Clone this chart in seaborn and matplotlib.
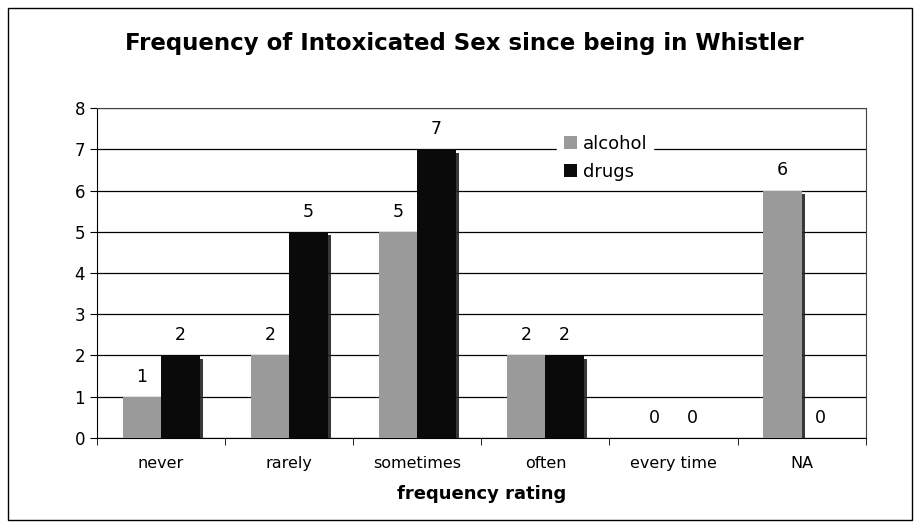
import pandas as pd
import seaborn as sns
import matplotlib.pyplot as plt
import matplotlib.patheffects as pe
from matplotlib.patches import Rectangle

categories = ['never', 'rarely', 'sometimes', 'often', 'every time', 'NA']
alcohol = [1, 2, 5, 2, 0, 6]
drugs = [2, 5, 7, 2, 0, 0]

df = pd.DataFrame({
    'rating': categories * 2,
    'count': alcohol + drugs,
    'substance': ['alcohol'] * len(categories) + ['drugs'] * len(categories),
})

sns.set_style("white")
plt.rcParams['font.family'] = ['DejaVu Sans']
plt.rcParams['text.color'] = 'black'
plt.rcParams['axes.labelcolor'] = 'black'
plt.rcParams['xtick.color'] = 'black'
plt.rcParams['ytick.color'] = 'black'

fig = plt.figure(figsize=(9.18, 5.27), dpi=100)
ax = fig.add_axes([0.1057, 0.169, 0.8373, 0.626])

sns.barplot(data=df, x='rating', y='count', hue='substance', order=categories,
            palette={'alcohol': '#9a9a9a', 'drugs': '#0a0a0a'},
            width=0.6, saturation=1, linewidth=0, ax=ax, zorder=3)

for c in ax.containers:
    ax.bar_label(c, padding=8, fontsize=12.5)

ax.set_ylim(0, 8)
ax.set_xlim(-0.5, 5.5)
ax.set_yticks(range(0, 9))
ax.yaxis.grid(True, color='black', linewidth=0.9, zorder=0)
ax.set_axisbelow(True)
for s in ax.spines.values():
    s.set_color('#444444')
    s.set_linewidth(0.8)
ax.spines['left'].set_color('black')
ax.spines['bottom'].set_color('black')
ax.tick_params(axis='y', left=True, length=5, labelsize=12)
ax.set_xticks(range(len(categories)))
ax.set_xticklabels(categories)
ax.set_xticks([i - 0.5 for i in range(len(categories) + 1)], minor=True)
ax.tick_params(axis='x', which='major', length=0, labelsize=11.5, pad=13)
ax.tick_params(axis='x', which='minor', bottom=True, length=5)
ax.set_xlabel('frequency rating', fontsize=13, fontweight='bold', labelpad=10)
ax.set_ylabel('')

leg = ax.legend(loc='upper left', bbox_to_anchor=(0.587, 0.965), frameon=True,
                fontsize=13, handlelength=0.75, handleheight=0.75, handletextpad=0.3,
                borderpad=0.35, labelspacing=0.55, fancybox=False)
leg.get_frame().set_edgecolor('white')
leg.get_frame().set_facecolor('white')
leg.get_frame().set_alpha(1)
leg.set_zorder(5)

# slight drop shadow on the right side of each bar (added after the legend)
for p in ax.patches:
    p.set_path_effects([pe.SimplePatchShadow(offset=(2.5, -2.5), shadow_rgbFace='#222222', alpha=0.9),
                        pe.Normal()])

fig.text(0.506, 0.918, 'Frequency of Intoxicated Sex since being in Whistler',
         ha='center', va='center', fontsize=16.5, fontweight='bold')

fig.patches.append(Rectangle((8 / 918, 7 / 527), 904 / 918, 512 / 527,
                             transform=fig.transFigure, fill=False,
                             edgecolor='black', linewidth=1))

fig.savefig('out.png', dpi=100)
